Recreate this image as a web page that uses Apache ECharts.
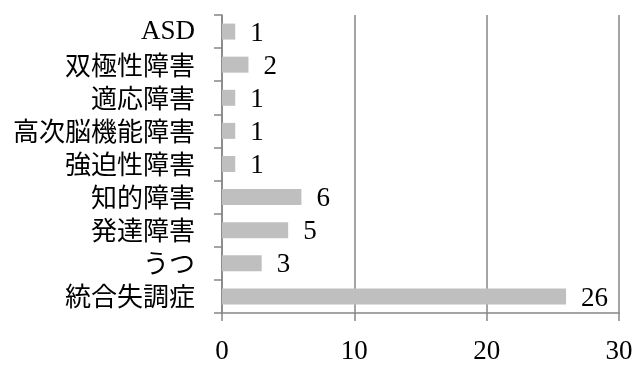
<!DOCTYPE html>
<html><head><meta charset="utf-8">
<script src="https://cdn.jsdelivr.net/npm/echarts@6/dist/echarts.min.js"></script>
<style>html,body{margin:0;padding:0;background:#fff}#c{width:637px;height:365px}</style>
</head><body><div id="c"></div>
<script>
const categories = ['統合失調症','うつ','発達障害','知的障害','強迫性障害','高次脳機能障害','適応障害','双極性障害','ASD'];
const values = [26,3,5,6,1,1,1,2,1];
const xTicks = [0,10,20,30];

const chart = echarts.init(document.getElementById('c'));
chart.setOption({
  animation:false,
  backgroundColor:'#fff',
  grid:{left:222,right:18,top:15,bottom:47,containLabel:false},
  xAxis:{type:'value',min:xTicks[0],max:xTicks[xTicks.length-1],interval:10,
    axisLine:{show:true,lineStyle:{color:'#868686',width:1.5}},
    axisTick:{show:true,length:8,lineStyle:{color:'#868686',width:1.5}},
    splitLine:{show:true,lineStyle:{color:'#868686',width:1.5}},
    axisLabel:{color:'#000',fontFamily:'Liberation Serif',fontSize:27,margin:25}
  },
  yAxis:{type:'category',data:categories,
    axisLine:{show:true,lineStyle:{color:'#868686',width:1.5}},
    axisTick:{show:true,length:8,alignWithLabel:false,interval:0,lineStyle:{color:'#868686',width:1.5}},
    axisLabel:{color:'#000',interval:0,fontFamily:'"Noto Sans CJK JP"',fontSize:26,margin:27,
      formatter:function(v){return /^[A-Za-z]+$/.test(v)?'{s|'+v+'}':v;},
      rich:{s:{fontFamily:'Liberation Serif',fontSize:27,color:'#000'}}
    }
  },
  series:[{type:'bar',data:values,barWidth:16,itemStyle:{color:'#bfbfbf'},z:3,
    label:{show:true,position:'right',distance:15,offset:[0,2],color:'#000',fontFamily:'Liberation Serif',fontSize:27}
  }]
});
</script></body></html>
